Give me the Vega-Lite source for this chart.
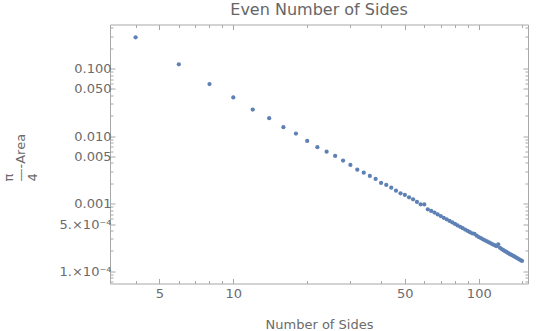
{
  "$schema": "https://vega.github.io/schema/vega-lite/v6.json",
  "width": 418,
  "height": 259,
  "autosize": "none",
  "padding": {"left": 110, "top": 24.5, "right": 10, "bottom": 47.5},
  "background": "white",
  "title": {"text": "Even Number of Sides", "fontSize": 16, "font": "DejaVu Sans", "fontWeight": "normal", "color": "#666666", "offset": -12, "baseline": "bottom", "anchor": "middle", "frame": "group"},
  "data": {"values": [
    {"sides": 4, "diff": 0.290}, {"sides": 6, "diff": 0.1154}, {"sides": 8, "diff": 0.0589}, {"sides": 10, "diff": 0.0374},
    {"sides": 12, "diff": 0.0247}, {"sides": 14, "diff": 0.01842}, {"sides": 16, "diff": 0.01354}, {"sides": 18, "diff": 0.01089},
    {"sides": 20, "diff": 0.00849}, {"sides": 22, "diff": 0.00685}, {"sides": 24, "diff": 0.00589}, {"sides": 26, "diff": 0.00509},
    {"sides": 28, "diff": 0.00434}, {"sides": 30, "diff": 0.00374}, {"sides": 32, "diff": 0.00319}, {"sides": 34, "diff": 0.00288},
    {"sides": 36, "diff": 0.00257}, {"sides": 38, "diff": 0.00232}, {"sides": 40, "diff": 0.00203}, {"sides": 42, "diff": 0.00189},
    {"sides": 44, "diff": 0.001726}, {"sides": 46, "diff": 0.001558}, {"sides": 48, "diff": 0.001426}, {"sides": 50, "diff": 0.001345},
    {"sides": 52, "diff": 0.001244}, {"sides": 54, "diff": 0.001162}, {"sides": 56, "diff": 0.00106}, {"sides": 58, "diff": 0.00098},
    {"sides": 60, "diff": 0.000975}, {"sides": 62, "diff": 0.000826}, {"sides": 64, "diff": 0.000779}, {"sides": 66, "diff": 0.000738},
    {"sides": 68, "diff": 0.000693}, {"sides": 70, "diff": 0.000655}, {"sides": 72, "diff": 0.000617}, {"sides": 74, "diff": 0.000586},
    {"sides": 76, "diff": 0.000556}, {"sides": 78, "diff": 0.000528}, {"sides": 80, "diff": 0.000502}, {"sides": 82, "diff": 0.000476},
    {"sides": 84, "diff": 0.000455}, {"sides": 86, "diff": 0.000434}, {"sides": 88, "diff": 0.000414}, {"sides": 90, "diff": 0.000396},
    {"sides": 92, "diff": 0.000378}, {"sides": 94, "diff": 0.000364}, {"sides": 96, "diff": 0.000358}, {"sides": 98, "diff": 0.000336},
    {"sides": 100, "diff": 0.000321}, {"sides": 102, "diff": 0.000309}, {"sides": 104, "diff": 0.000297}, {"sides": 106, "diff": 0.000287},
    {"sides": 108, "diff": 0.000277}, {"sides": 110, "diff": 0.000268}, {"sides": 112, "diff": 0.000259}, {"sides": 114, "diff": 0.00025},
    {"sides": 116, "diff": 0.000243}, {"sides": 118, "diff": 0.000235}, {"sides": 120, "diff": 0.00025}, {"sides": 122, "diff": 0.000222},
    {"sides": 124, "diff": 0.000213}, {"sides": 126, "diff": 0.000205}, {"sides": 128, "diff": 0.000198}, {"sides": 130, "diff": 0.000191},
    {"sides": 132, "diff": 0.000185}, {"sides": 134, "diff": 0.000179}, {"sides": 136, "diff": 0.000174}, {"sides": 138, "diff": 0.000169},
    {"sides": 140, "diff": 0.000164}, {"sides": 142, "diff": 0.000159}, {"sides": 144, "diff": 0.000155}, {"sides": 146, "diff": 0.00015},
    {"sides": 148, "diff": 0.000146}, {"sides": 150, "diff": 0.000142}
  ]},
  "layer": [
    {
      "mark": {"type": "circle", "size": 18, "color": "#5e81b5", "opacity": 1},
      "encoding": {
        "x": {
          "field": "sides", "type": "quantitative",
          "scale": {"type": "log", "domain": [3.146, 158.7], "nice": false},
          "axis": {
            "orient": "bottom",
            "title": "Number of Sides",
            "values": [4, 5, 6, 7, 8, 9, 10, 20, 30, 40, 50, 60, 70, 80, 90, 100, 150],
            "labelExpr": "indexof([5, 10, 50, 100], datum.value) >= 0 ? datum.label : ''",
            "tickSize": {"condition": {"test": "indexof([5, 10, 50, 100], datum.value) >= 0", "value": -5}, "value": -3},
            "labelPadding": 9,
            "titleX": 209,
            "titleY": 45,
            "titleBaseline": "alphabetic"
          }
        },
        "y": {
          "field": "diff", "type": "quantitative",
          "scale": {"type": "log", "domain": [0.0000658, 0.449], "nice": false},
          "axis": {
            "orient": "left",
            "title": ["π", "—-Area", "4"],
            "titleAngle": -90,
            "titleAlign": "left",
            "titleBaseline": "alphabetic",
            "titleLineHeight": 12,
            "titleX": -97.5,
            "titleY": 156.5,
            "values": [0.00007, 0.00008, 0.00009, 0.0001, 0.0002, 0.0003, 0.0004, 0.0005, 0.0006, 0.0007, 0.0008, 0.0009, 0.001, 0.002, 0.003, 0.004, 0.005, 0.006, 0.007, 0.008, 0.009, 0.01, 0.02, 0.03, 0.04, 0.05, 0.06, 0.07, 0.08, 0.09, 0.1, 0.2, 0.3, 0.4],
            "labelExpr": "datum.value == 0.1 ? '0.100' : datum.value == 0.05 ? '0.050' : datum.value == 0.01 ? '0.010' : datum.value == 0.005 ? '0.005' : datum.value == 0.001 ? '0.001' : datum.value == 0.0005 ? '5.×10⁻⁴' : datum.value == 0.0001 ? '1.×10⁻⁴' : ''",
            "tickSize": {"condition": {"test": "indexof([0.0001, 0.0005, 0.001, 0.005, 0.01, 0.05, 0.1], datum.value) >= 0", "value": -5}, "value": -3},
            "labelPadding": 4
          }
        }
      }
    },
    {
      "mark": {"type": "circle", "size": 18, "opacity": 0},
      "encoding": {
        "x": {
          "field": "sides", "type": "quantitative",
          "axis": {
            "orient": "top", "title": null, "labels": false,
            "minExtent": 0, "maxExtent": 0,
            "values": [4, 5, 6, 7, 8, 9, 10, 20, 30, 40, 50, 60, 70, 80, 90, 100, 150],
            "tickSize": {"condition": {"test": "indexof([5, 10, 50, 100], datum.value) >= 0", "value": -5}, "value": -3}
          }
        },
        "y": {
          "field": "diff", "type": "quantitative",
          "axis": {
            "orient": "right", "title": null, "labels": false,
            "minExtent": 0, "maxExtent": 0,
            "values": [0.00007, 0.00008, 0.00009, 0.0001, 0.0002, 0.0003, 0.0004, 0.0005, 0.0006, 0.0007, 0.0008, 0.0009, 0.001, 0.002, 0.003, 0.004, 0.005, 0.006, 0.007, 0.008, 0.009, 0.01, 0.02, 0.03, 0.04, 0.05, 0.06, 0.07, 0.08, 0.09, 0.1, 0.2, 0.3, 0.4],
            "tickSize": {"condition": {"test": "indexof([0.0001, 0.0005, 0.001, 0.005, 0.01, 0.05, 0.1], datum.value) >= 0", "value": -5}, "value": -3}
          }
        }
      }
    }
  ],
  "resolve": {"axis": {"x": "independent", "y": "independent"}},
  "config": {
    "view": {"stroke": "#a8a8a8", "strokeWidth": 1},
    "axis": {
      "domain": false,
      "grid": false,
      "tickColor": "#a8a8a8",
      "tickWidth": 1,
      "labelFont": "DejaVu Sans",
      "labelFontSize": 13,
      "labelColor": "#6b6b6b",
      "labelOverlap": false,
      "labelFlush": false,
      "labelBound": false,
      "titleFont": "DejaVu Sans",
      "titleFontSize": 13,
      "titleFontWeight": "normal",
      "titleColor": "#6b6b6b"
    }
  }
}
